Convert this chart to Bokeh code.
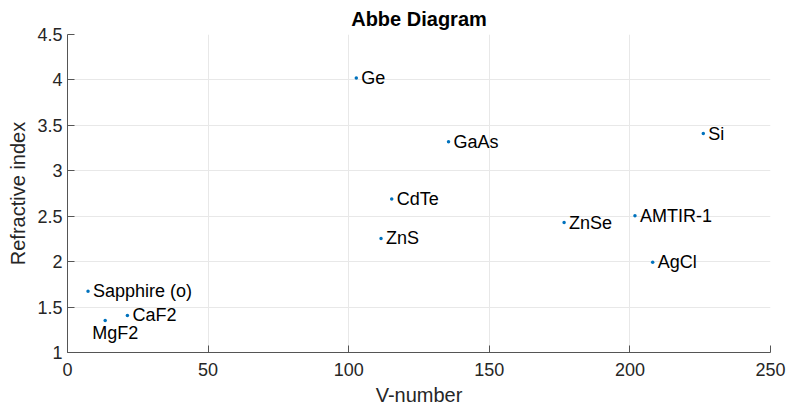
from bokeh.plotting import figure
from bokeh.models import ColumnDataSource, Range1d, FixedTicker, NumeralTickFormatter
from bokeh.core.properties import value
from bokeh.embed import file_html
from bokeh.resources import INLINE

materials = ["Ge", "GaAs", "Si", "CdTe", "ZnS", "ZnSe", "AMTIR-1", "AgCl",
             "Sapphire (o)", "CaF2", "MgF2"]
v_number = [102.7, 135.5, 226.1, 115.3, 111.5, 176.6, 201.8, 208.1, 7.3, 21.3, 13.4]
refr_index = [4.02, 3.32, 3.41, 2.69, 2.256, 2.43, 2.505, 1.993, 1.675, 1.408, 1.353]

x_ticks = [0, 50, 100, 150, 200, 250]
y_ticks = [1, 1.5, 2, 2.5, 3, 3.5, 4, 4.5]

# label offsets in screen pixels (style only)
label_dx = [5 if m != "MgF2" else -13 for m in materials]
label_dy = [0 if m != "MgF2" else 13 for m in materials]

src = ColumnDataSource(dict(v=v_number, n=refr_index, name=materials,
                            dx=label_dx, dy=label_dy))

FONT = "Liberation Sans"
p = figure(width=790, height=414, output_backend="svg", toolbar_location=None,
           x_range=Range1d(0, 250), y_range=Range1d(1, 4.5),
           min_border_left=67, min_border_right=20, min_border_top=33,
           min_border_bottom=62)

p.title.text = "Abbe Diagram"
p.title.align = "center"
p.title.text_font = FONT
p.title.text_font_size = "20px"
p.title.text_font_style = "bold"
p.title.text_color = "#000000"

p.xaxis.ticker = FixedTicker(ticks=x_ticks)
p.yaxis.ticker = FixedTicker(ticks=y_ticks)
p.yaxis.formatter = NumeralTickFormatter(format="0.[0]")
p.xaxis.formatter = NumeralTickFormatter(format="0")
p.xaxis.axis_label = "V-number"
p.yaxis.axis_label = "Refractive index"

for ax in (p.xaxis[0], p.yaxis[0]):
    ax.axis_line_color = "#555555"
    ax.major_tick_line_color = "#555555"
    ax.major_tick_in = 7
    ax.major_tick_out = 0
    ax.minor_tick_line_color = None
    ax.major_label_text_font = FONT
    ax.major_label_text_font_size = "18px"
    ax.major_label_text_color = "#262626"
    ax.axis_label_text_font = FONT
    ax.axis_label_text_font_size = "20px"
    ax.axis_label_text_font_style = "normal"
    ax.axis_label_text_color = "#262626"
    ax.major_label_standoff = 5
p.xaxis[0].major_label_standoff = 10

p.xgrid.grid_line_color = "#e8e8e8"
p.ygrid.grid_line_color = "#e8e8e8"
p.outline_line_color = None
p.background_fill_color = "white"
p.border_fill_color = "white"

p.scatter(x="v", y="n", source=src, size=3.5, color="#0072BD", line_color=None)
p.text(x="v", y="n", text="name", x_offset="dx", y_offset="dy", source=src,
       text_baseline="middle", text_align="left", text_font=value(FONT),
       text_font_size="18px", text_color="#000000")

open("out.html", "w").write(file_html(p, INLINE))
